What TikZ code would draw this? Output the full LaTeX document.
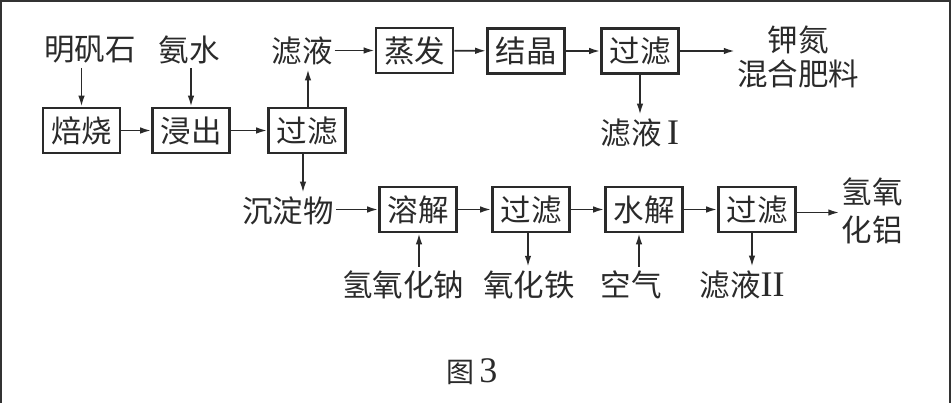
\documentclass[tikz,border=0pt]{standalone}
\usepackage{fontspec}
\setmainfont{Liberation Serif}
\newfontfamily\cjk{Noto Sans CJK SC}
\usetikzlibrary{arrows.meta}
\definecolor{ink}{HTML}{2A2A2A}
\definecolor{framec}{HTML}{333333}
\newcommand{\romn}[1]{{\rmfamily\fontsize{36}{36}\selectfont #1}}
\tikzset{
  proc/.style={draw=ink, line width=2.6pt, minimum width=77pt, minimum height=45pt, inner sep=0pt, text=ink, font=\cjk\fontsize{30.5}{32}\selectfont},
  lbl/.style={inner xsep=2pt, inner ysep=4pt, text=ink, font=\cjk\fontsize{30.5}{32}\selectfont},
  arr/.style={draw=ink, line width=1.8pt, -{Latex[length=11pt,width=6.5pt]}}
}
\begin{document}
\begin{tikzpicture}[x=1pt,y=-1pt]
\useasboundingbox (0,0) rectangle (951,403);
\fill[white] (0,0) rectangle (951,403);
\draw[line width=2.5pt, framec] (1.2,403) -- (1.2,1.2) -- (949.8,1.2) -- (949.8,403);
% top row
\node[lbl] (mfs) at (90,50) {明矾石};
\node[lbl] (as) at (189,50) {氨水};
\node[lbl] (lv1) at (302,51) {滤液};
\node[proc] (zf) at (414.5,50.5) {蒸发};
\node[proc] (jj) at (526,51) {结晶};
\node[proc] (gl1) at (640,51) {过滤};
\node[lbl, align=center, font=\cjk\fontsize{30.5}{34}\selectfont] (fl) at (798,57) {钾氮\\混合肥料};
\node[lbl] (lyI) at (640,133) {滤液\,\romn{I}};
% middle row
\node[proc] (bs) at (81.5,130.5) {焙烧};
\node[proc] (jc) at (191,130.5) {浸出};
\node[proc] (gl0) at (307,130.5) {过滤};
% bottom row
\node[lbl] (cdw) at (288,211) {沉淀物};
\node[proc] (rj) at (418,209.5) {溶解};
\node[proc] (gl2) at (531,209.5) {过滤};
\node[proc] (sj) at (644,209.5) {水解};
\node[proc] (gl3) at (757,209.5) {过滤};
\node[lbl, align=center, font=\cjk\fontsize{30.5}{38}\selectfont] (al) at (872,211) {氢氧\\化铝};
\node[lbl] (naoh) at (403,285) {氢氧化钠};
\node[lbl] (fe) at (529,285) {氧化铁};
\node[lbl] (air) at (631,285) {空气};
\node[lbl] (lyII) at (742,285) {滤液\romn{II}};
\node[lbl, font=\cjk\fontsize{28}{30}\selectfont] (cap) at (472,372) {图\,\romn{3}};
% arrows
\draw[arr] (bs.north |- mfs.south) -- (bs.north);
\draw[arr] (jc.north |- as.south) -- (jc.north);
\draw[arr] (bs) -- (jc);
\draw[arr] (jc) -- (gl0);
\draw[arr] ([xshift=1pt]gl0.north) -- ([xshift=1pt]gl0.north |- lv1.south);
\draw[arr] ([xshift=-4pt]gl0.south) -- ([xshift=-4pt]gl0.south |- cdw.north);
\draw[arr] (lv1.east |- zf.west) -- (zf.west);
\draw[arr] (zf) -- (jj);
\draw[arr] (jj) -- (gl1);
\draw[arr] (gl1.east) -- (gl1.east -| fl.west);
\draw[arr] (gl1.south) -- (gl1.south |- lyI.north);
\draw[arr] (cdw.east |- rj.west) -- (rj.west);
\draw[arr] (rj) -- (gl2);
\draw[arr] (gl2) -- (sj);
\draw[arr] (sj) -- (gl3);
\draw[arr] ([yshift=-3pt]gl3.east) -- ([yshift=-3pt]gl3.east -| al.west);
\draw[arr] ([xshift=1pt]rj.south |- naoh.north) -- ([xshift=1pt]rj.south);
\draw[arr] ([xshift=-3pt]gl2.south) -- ([xshift=-3pt]gl2.south |- fe.north);
\draw[arr] ([xshift=-5pt]sj.south |- air.north) -- ([xshift=-5pt]sj.south);
\draw[arr] ([xshift=-5pt]gl3.south) -- ([xshift=-5pt]gl3.south |- lyII.north);
\end{tikzpicture}
\end{document}
